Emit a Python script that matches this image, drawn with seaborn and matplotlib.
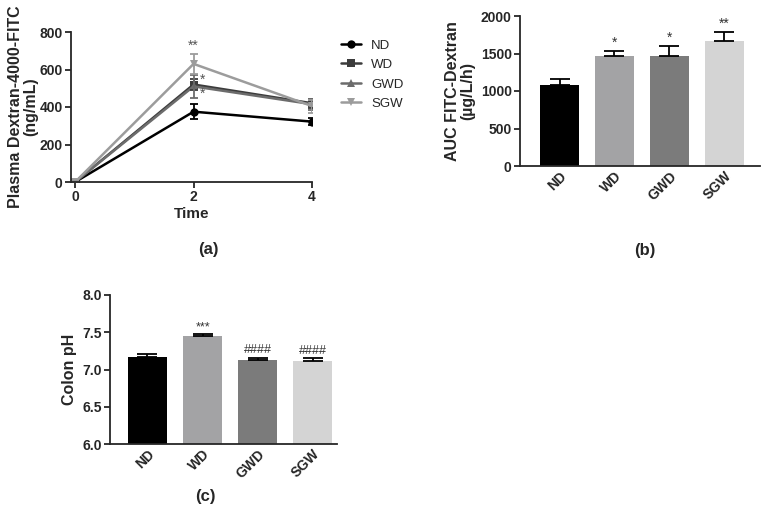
import matplotlib
matplotlib.use('Agg')
import matplotlib.pyplot as plt
import seaborn as sns
import pandas as pd

groups = ['ND', 'WD', 'GWD', 'SGW']
times = [0, 2, 4]

# (a) plasma dextran over time
plasma_mean = {
    'ND': [0, 375, 322],
    'WD': [0, 520, 420],
    'GWD': [0, 510, 415],
    'SGW': [0, 630, 405],
}
plasma_err = {
    'ND': [5, 40, 18],
    'WD': [5, 28, 25],
    'GWD': [5, 60, 30],
    'SGW': [5, 55, 35],
}

# (b) AUC
auc_mean = [1080, 1470, 1470, 1670]
auc_err = [85, 60, 130, 120]
auc_marks = ['', '*', '*', '**']

# (c) colon pH
ph_mean = [7.17, 7.45, 7.13, 7.12]
ph_err = [0.04, 0.02, 0.03, 0.03]
ph_marks = ['', '***', '####', '####']

line_colors = ['#000000', '#3c3c3c', '#6c6c6c', '#9c9c9c']
line_markers = ['o', 's', '^', 'v']
bar_colors = ['#000000', '#a2a2a6', '#7b7b7b', '#d4d4d4']

sns.set_style('ticks')
plt.rcParams['font.family'] = ['Liberation Sans', 'DejaVu Sans']
plt.rcParams['axes.linewidth'] = 1.3
plt.rcParams['xtick.major.width'] = 1.3
plt.rcParams['ytick.major.width'] = 1.3

fig = plt.figure(figsize=(7.67, 5.08), dpi=100)

# ---------- panel (a)
ax1 = fig.add_axes([71/767, 1-182/508, 241/767, 150/508])
rows = []
for g in groups:
    for t, v in zip(times, plasma_mean[g]):
        rows.append({'Time': t, 'value': v, 'group': g})
df_a = pd.DataFrame(rows)
sns.lineplot(data=df_a, x='Time', y='value', hue='group', style='group',
             palette=line_colors, markers=line_markers, dashes=False,
             markersize=6, linewidth=1.8, markeredgewidth=0, ax=ax1)
for g, c in zip(groups, line_colors):
    ax1.errorbar(times, plasma_mean[g], yerr=plasma_err[g], fmt='none',
                 ecolor=c, elinewidth=1.3, capsize=3, capthick=1.3)
ax1.set_xlim(-0.07, 4.0)
ax1.set_ylim(0, 800)
ax1.set_xticks([0, 2, 4])
ax1.set_yticks([0, 200, 400, 600, 800])
ax1.set_xlabel('Time', fontsize=11, fontweight='bold', labelpad=2)
ax1.set_ylabel('Plasma Dextran-4000-FITC\n(ng/mL)', fontsize=11.5, fontweight='bold',
               labelpad=1, linespacing=1.0)
ax1.text(2, 690, '**', ha='center', va='bottom', fontsize=10, color='#555555')
ax1.text(2.1, 545, '*', ha='left', va='center', fontsize=10, color='#555555')
ax1.text(2.1, 470, '*', ha='left', va='center', fontsize=10, color='#555555')
sns.despine(ax=ax1)
leg = ax1.legend(loc='upper left', bbox_to_anchor=(1.07, 1.03), frameon=False,
                 fontsize=9.5, handlelength=1.5, labelspacing=0.55)
leg.set_title(None)
ax1.text(0.57, -0.45, '(a)', transform=ax1.transAxes, ha='center', va='center',
         fontsize=12, fontweight='bold')

# ---------- panel (b)
ax2 = fig.add_axes([520/767, 1-166/508, 240/767, 150/508])
df_b = pd.DataFrame({'group': groups, 'auc': auc_mean})
sns.barplot(data=df_b, x='group', y='auc', hue='group', palette=bar_colors,
            width=0.7, errorbar=None, legend=False, linewidth=0, ax=ax2)
ax2.errorbar(range(4), auc_mean, yerr=[[0]*4, auc_err], fmt='none', ecolor='black',
             elinewidth=1.3, capsize=7, capthick=1.3)
for i, m in enumerate(auc_marks):
    ax2.text(i, auc_mean[i] + auc_err[i] + 15, m, ha='center', va='bottom',
             fontsize=10, color='#333333')
ax2.set_xlim(-0.72, 3.65)
ax2.set_ylim(0, 2000)
ax2.set_yticks([0, 500, 1000, 1500, 2000])
ax2.set_xlabel('')
ax2.set_ylabel('AUC FITC-Dextran\n(µg/L/h)', fontsize=11.5, fontweight='bold',
               labelpad=4, linespacing=1.0)
for lab in ax2.get_xticklabels():
    lab.set_rotation(45)
    lab.set_ha('right')
    lab.set_rotation_mode('anchor')
sns.despine(ax=ax2)
ax2.text(0.52, -0.56, '(b)', transform=ax2.transAxes, ha='center', va='center',
         fontsize=12, fontweight='bold')

# ---------- panel (c)
ax3 = fig.add_axes([110/767, 1-444/508, 227/767, 149/508])
df_c = pd.DataFrame({'group': groups, 'ph': ph_mean})
sns.barplot(data=df_c, x='group', y='ph', hue='group', palette=bar_colors,
            width=0.7, errorbar=None, legend=False, linewidth=0, ax=ax3)
ax3.errorbar(range(4), ph_mean, yerr=[[0]*4, ph_err], fmt='none', ecolor='black',
             elinewidth=1.3, capsize=7, capthick=1.3)
for i, m in enumerate(ph_marks):
    ax3.text(i, ph_mean[i] + ph_err[i] + 0.02, m, ha='center', va='bottom',
             fontsize=9, color='#333333')
ax3.set_xlim(-0.68, 3.44)
ax3.set_ylim(6.0, 8.0)
ax3.set_yticks([6.0, 6.5, 7.0, 7.5, 8.0])
ax3.set_yticklabels(['6.0', '6.5', '7.0', '7.5', '8.0'])
ax3.set_xlabel('')
ax3.set_ylabel('Colon pH', fontsize=11.5, fontweight='bold', labelpad=4)
for lab in ax3.get_xticklabels():
    lab.set_rotation(45)
    lab.set_ha('right')
    lab.set_rotation_mode('anchor')
sns.despine(ax=ax3)
ax3.text(95/227, -0.35, '(c)', transform=ax3.transAxes, ha='center', va='center',
         fontsize=12, fontweight='bold')

for ax in (ax1, ax2, ax3):
    for lab in ax.get_xticklabels() + ax.get_yticklabels():
        lab.set_fontweight('bold')
        lab.set_fontsize(10)
    ax.tick_params(length=4, pad=2)
ax2.tick_params(axis='x', length=0)
ax3.tick_params(axis='x', length=0)

fig.savefig('out.png', dpi=100)
